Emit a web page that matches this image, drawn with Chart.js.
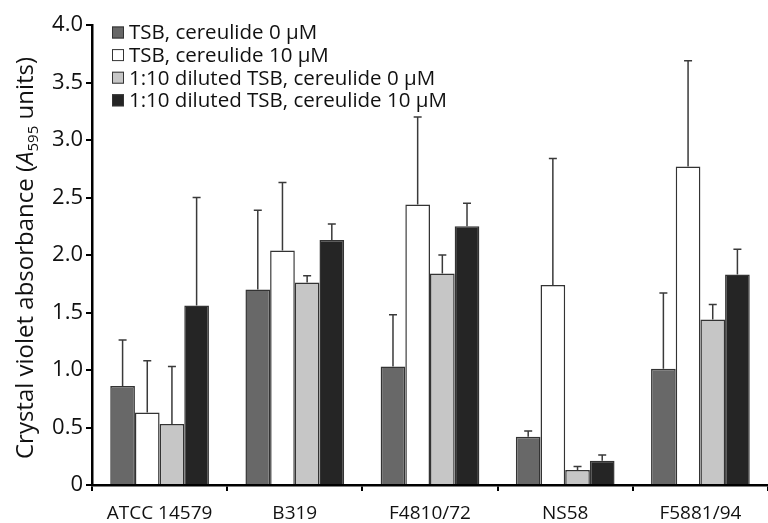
<!DOCTYPE html>
<html lang="en">
<head>
<meta charset="UTF-8">
<title>Crystal violet absorbance</title>
<script src="https://cdn.jsdelivr.net/npm/chart.js@4.4.0/dist/chart.umd.min.js"></script>
<style>
  html, body { margin: 0; padding: 0; background: #fff; }
  #wrap { width: 768px; height: 523px; }
</style>
</head>
<body>
<div id="wrap"><canvas id="chart" width="768" height="523"></canvas></div>
<script>
// data
const strains = ['ATCC 14579', 'B319', 'F4810/72', 'NS58', 'F5881/94'];
const seriesNames = [
  'TSB, cereulide 0 \u00b5M',
  'TSB, cereulide 10 \u00b5M',
  '1:10 diluted TSB, cereulide 0 \u00b5M',
  '1:10 diluted TSB, cereulide 10 \u00b5M'
];
const tsb0 = [0.86, 1.70, 1.03, 0.42, 1.01];
const tsb10 = [0.63, 2.04, 2.44, 1.74, 2.77];
const dil0 = [0.53, 1.76, 1.84, 0.13, 1.44];
const dil10 = [1.56, 2.13, 2.25, 0.21, 1.83];
// upward error (SD)
const tsb0Err = [0.40, 0.69, 0.45, 0.05, 0.66];
const tsb10Err = [0.45, 0.59, 0.76, 1.10, 0.92];
const dil0Err = [0.50, 0.06, 0.16, 0.03, 0.13];
const dil10Err = [0.94, 0.14, 0.20, 0.05, 0.22];
const yTicks = [0, 0.5, 1.0, 1.5, 2.0, 2.5, 3.0, 3.5, 4.0];

const FONT = '"Open Sans", sans-serif';
const fills = ['#686868', '#ffffff', '#c6c6c6', '#252525'];
const values = [tsb0, tsb10, dil0, dil10];
const errors = [tsb0Err, tsb10Err, dil0Err, dil10Err];

const errorBars = {
  id: 'errorBars',
  afterDatasetsDraw(chart) {
    const ctx = chart.ctx;
    const y = chart.scales.y;
    ctx.save();
    ctx.strokeStyle = '#3a3a3a';
    ctx.lineWidth = 1.5;
    chart.data.datasets.forEach((ds, i) => {
      const meta = chart.getDatasetMeta(i);
      meta.data.forEach((bar, j) => {
        const top = y.getPixelForValue(ds.data[j] + ds.err[j]);
        ctx.beginPath();
        ctx.moveTo(bar.x, bar.y);
        ctx.lineTo(bar.x, top);
        ctx.moveTo(bar.x - 4, top);
        ctx.lineTo(bar.x + 4, top);
        ctx.stroke();
      });
    });
    ctx.restore();
  }
};

const insideLegend = {
  id: 'insideLegend',
  afterDraw(chart) {
    const ctx = chart.ctx;
    ctx.save();
    ctx.font = '20.5px ' + FONT;
    ctx.textBaseline = 'middle';
    chart.data.datasets.forEach((ds, i) => {
      const cy = 32.5 + i * 22.6;
      ctx.fillStyle = ds.backgroundColor;
      ctx.fillRect(112, cy - 6, 12, 12);
      ctx.strokeStyle = '#333';
      ctx.lineWidth = 1;
      ctx.strokeRect(112.5, cy - 5.5, 11, 11);
      ctx.fillStyle = '#111';
      ctx.fillText(ds.label, 129, cy + 1);
    });
    ctx.restore();
  }
};

const yTitle = {
  id: 'yTitle',
  afterDraw(chart) {
    const ctx = chart.ctx;
    ctx.save();
    ctx.translate(33, 258);
    ctx.rotate(-Math.PI / 2);
    ctx.fillStyle = '#111';
    ctx.textBaseline = 'alphabetic';
    const parts = [
      { t: 'Crystal violet absorbance (', f: '24px ' + FONT, dy: 0 },
      { t: 'A', f: 'italic 24px ' + FONT, dy: 0 },
      { t: '595', f: '15px ' + FONT, dy: 5 },
      { t: ' units)', f: '24px ' + FONT, dy: 0 }
    ];
    let w = 0;
    parts.forEach(p => { ctx.font = p.f; w += ctx.measureText(p.t).width; });
    let x = -w / 2;
    parts.forEach(p => {
      ctx.font = p.f;
      ctx.fillText(p.t, x, p.dy);
      x += ctx.measureText(p.t).width;
    });
    ctx.restore();
  }
};

new Chart(document.getElementById('chart'), {
  type: 'bar',
  data: {
    labels: strains,
    datasets: seriesNames.map((name, i) => ({
      label: name,
      data: values[i],
      err: errors[i],
      backgroundColor: fills[i],
      borderColor: '#333',
      borderWidth: 1.5,
      borderSkipped: 'bottom',
      barPercentage: 1.0,
      categoryPercentage: 0.73
    }))
  },
  options: {
    responsive: false,
    animation: false,
    layout: { padding: { top: 25, right: 0, left: 0, bottom: 0 } },
    plugins: { legend: { display: false }, tooltip: { enabled: false } },
    scales: {
      x: {
        grid: { display: true, offset: true, drawOnChartArea: false, drawTicks: true, tickLength: 6, color: '#000', lineWidth: 2 },
        border: { display: true, color: '#000', width: 2.5 },
        ticks: { color: '#111', font: { family: FONT, size: 19 }, padding: 11, maxRotation: 0 },
        afterFit(s) { s.height = 38; }
      },
      y: {
        min: 0,
        max: 4,
        afterBuildTicks(s) { s.ticks = yTicks.map(v => ({ value: v })); },
        grid: { drawOnChartArea: false, drawTicks: true, tickLength: 6, color: '#000', lineWidth: 2 },
        border: { display: true, color: '#000', width: 2.5 },
        ticks: {
          color: '#111',
          font: { family: FONT, size: 22 },
          padding: 3,
          callback: v => v === 0 ? '0' : v.toFixed(1)
        },
        afterFit(s) { s.width = 92; }
      }
    }
  },
  plugins: [errorBars, insideLegend, yTitle]
});
</script>
</body>
</html>
